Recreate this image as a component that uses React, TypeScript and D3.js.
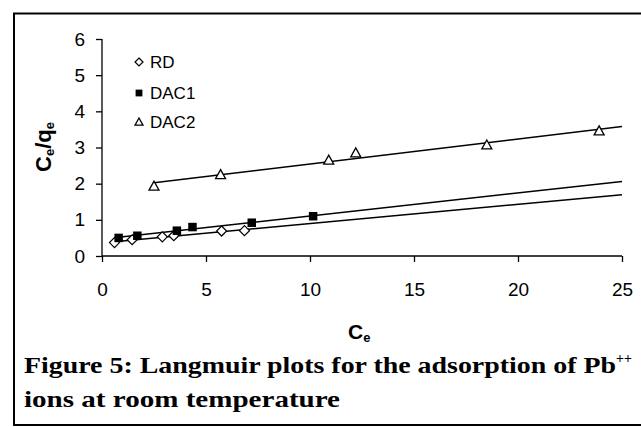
import React, { useEffect, useRef } from "react";
import * as d3 from "d3";

// Langmuir data (Ce, Ce/qe)
const rdX = [0.6, 1.45, 2.9, 3.45, 5.75, 6.85];
const rdY = [0.37, 0.45, 0.53, 0.56, 0.69, 0.7];
const dac1X = [0.8, 1.7, 3.6, 4.35, 7.2, 10.15];
const dac1Y = [0.5, 0.56, 0.7, 0.8, 0.92, 1.1];
const dac2X = [2.5, 5.7, 10.9, 12.2, 18.5, 23.9];
const dac2Y = [1.93, 2.25, 2.65, 2.85, 3.07, 3.46];
const seriesNames = ["RD", "DAC1", "DAC2"];
const xTicks = [0, 5, 10, 15, 20, 25];
const yTicks = [0, 1, 2, 3, 4, 5, 6];

const W = 641;
const H = 427;

// least squares fit, like the spreadsheet trendline
function fit(xs: number[], ys: number[]) {
  const mx = d3.mean(xs) as number;
  const my = d3.mean(ys) as number;
  let sxy = 0;
  let sxx = 0;
  xs.forEach((x, i) => {
    sxy += (x - mx) * (ys[i] - my);
    sxx += (x - mx) * (x - mx);
  });
  const b = sxy / sxx;
  return { a: my - b * mx, b };
}

const App: React.FC = () => {
  const svgRef = useRef<SVGSVGElement | null>(null);

  useEffect(() => {
    const svg = d3.select(svgRef.current);
    svg.selectAll("*").remove();

    const x = d3.scaleLinear().domain([0, 25]).range([102, 622]);
    const y = d3.scaleLinear().domain([0, 6]).range([256, 39]);

    // outer frame (runs off the right edge)
    svg
      .append("rect")
      .attr("x", 14)
      .attr("y", 13.5)
      .attr("width", 700)
      .attr("height", 411.5)
      .attr("fill", "none")
      .attr("stroke", "#000")
      .attr("stroke-width", 2);

    const font = "Arial, 'Liberation Sans', sans-serif";
    const serif = "'Liberation Serif', 'Times New Roman', serif";

    const yAxis = svg
      .append("g")
      .attr("transform", `translate(${x(0)},0)`)
      .call(d3.axisLeft(y).tickValues(yTicks).tickSize(6).tickSizeOuter(0).tickPadding(11).tickFormat(d3.format("d")));
    const xAxis = svg
      .append("g")
      .attr("transform", `translate(0,${y(0)})`)
      .call(d3.axisBottom(x).tickValues(xTicks).tickSize(6).tickSizeOuter(0).tickPadding(21).tickFormat(d3.format("d")));
    [yAxis, xAxis].forEach((g) => {
      g.selectAll("path, line").attr("stroke", "#000").attr("stroke-width", 1.3);
      g.selectAll("text").attr("font-family", font).attr("font-size", 19).attr("fill", "#000");
    });
    yAxis.select(".domain").attr("d", `M0,${y(6)}V${y(0)}`);
    xAxis.select(".domain").attr("d", `M${x(0)},0H${x(25)}`);

    // axis titles
    const yt = svg
      .append("text")
      .attr("transform", `translate(51,147) rotate(-90)`)
      .attr("text-anchor", "middle")
      .attr("font-family", font)
      .attr("font-weight", "bold")
      .attr("font-size", 22);
    yt.append("tspan").text("C");
    yt.append("tspan").attr("font-size", 13).attr("dy", 3).text("e");
    yt.append("tspan").attr("dy", -3).text("/q");
    yt.append("tspan").attr("font-size", 13).attr("dy", 3).text("e");

    const xt = svg
      .append("text")
      .attr("x", 348)
      .attr("y", 339)
      .attr("font-family", font)
      .attr("font-weight", "bold")
      .attr("font-size", 21);
    xt.append("tspan").text("C");
    xt.append("tspan").attr("font-size", 13).attr("dy", 3).text("e");

    const series = [
      { xs: rdX, ys: rdY },
      { xs: dac1X, ys: dac1Y },
      { xs: dac2X, ys: dac2Y },
    ];

    // trendlines from first point forward to 25
    series.forEach((s) => {
      const { a, b } = fit(s.xs, s.ys);
      const x0 = d3.min(s.xs) as number;
      svg
        .append("path")
        .attr("d", `M${x(x0)},${y(a + b * x0)}L${x(25)},${y(a + b * 25)}`)
        .attr("stroke", "#000")
        .attr("stroke-width", 1.5)
        .attr("fill", "none");
    });

    const drawMarker = (g: d3.Selection<SVGGElement, unknown, null, undefined>, i: number, s: number) => {
      if (i === 0) {
        g.append("path")
          .attr("d", `M0,${-s}L${s},0L0,${s}L${-s},0Z`)
          .attr("fill", "#fff")
          .attr("stroke", "#000")
          .attr("stroke-width", 1.2);
      } else if (i === 1) {
        g.append("rect")
          .attr("x", -s * 0.85)
          .attr("y", -s * 0.85)
          .attr("width", s * 1.7)
          .attr("height", s * 1.7)
          .attr("fill", "#000");
      } else {
        g.append("path")
          .attr("d", `M0,${-s}L${s},${s * 0.8}L${-s},${s * 0.8}Z`)
          .attr("fill", "#fff")
          .attr("stroke", "#000")
          .attr("stroke-width", 1.3);
      }
    };

    series.forEach((s, i) => {
      s.xs.forEach((xv, j) => {
        const g = svg.append("g").attr("transform", `translate(${x(xv)},${y(s.ys[j])})`);
        drawMarker(g, i, 5);
      });
    });

    // legend
    const legendY = [62, 93, 122];
    seriesNames.forEach((name, i) => {
      const g = svg.append("g").attr("transform", `translate(139,${legendY[i]})`);
      drawMarker(g, i, 4);
      svg
        .append("text")
        .attr("x", 150)
        .attr("y", legendY[i] + 6)
        .attr("font-family", font)
        .attr("font-size", 17)
        .text(name);
    });

    // caption
    const cap = svg
      .append("text")
      .attr("x", 24)
      .attr("y", 373)
      .attr("font-family", serif)
      .attr("font-weight", "bold")
      .attr("font-size", 24);
    cap
      .append("tspan")
      .attr("textLength", 592)
      .attr("lengthAdjust", "spacingAndGlyphs")
      .text("Figure 5: Langmuir plots for the adsorption of Pb");
    cap.append("tspan").attr("font-size", 14).attr("dy", -10).text("++");
    svg
      .append("text")
      .attr("x", 24)
      .attr("y", 407)
      .attr("font-family", serif)
      .attr("font-weight", "bold")
      .attr("font-size", 24)
      .attr("textLength", 316)
      .attr("lengthAdjust", "spacingAndGlyphs")
      .text("ions at room temperature");
  }, []);

  return (
    <svg
      ref={svgRef}
      width={W}
      height={H}
      style={{ position: "absolute", left: 0, top: 0, background: "#fff" }}
    />
  );
};

export default App;
